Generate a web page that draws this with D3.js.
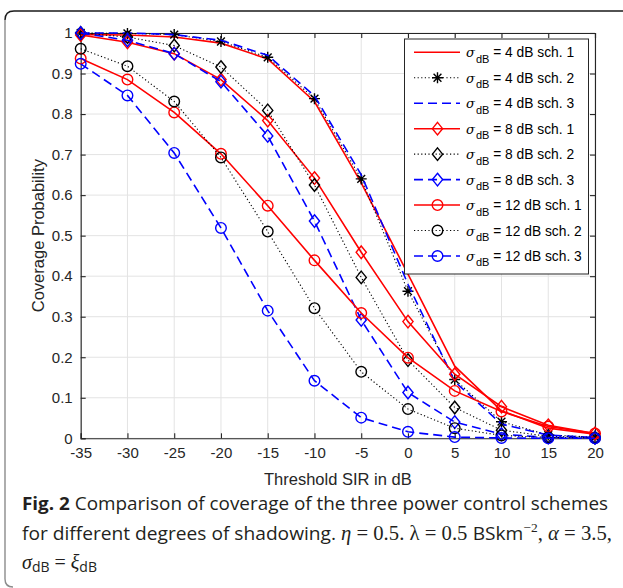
<!DOCTYPE html>
<html><head><meta charset="utf-8">
<script src="https://cdn.jsdelivr.net/npm/d3@7"></script>
<style>html,body{margin:0;padding:0;background:#fff;}svg{display:block;}</style>
</head><body>
<script>
const xValues = [-35,-30,-25,-20,-15,-10,-5,0,5,10,15,20];
const xTicks = [-35,-30,-25,-20,-15,-10,-5,0,5,10,15,20];
const xTickLabels = ["-35","-30","-25","-20","-15","-10","-5","0","5","10","15","20"];
const yTicks = [0,0.1,0.2,0.3,0.4,0.5,0.6,0.7,0.8,0.9,1];
const yTickLabels = ["0","0.1","0.2","0.3","0.4","0.5","0.6","0.7","0.8","0.9","1"];

const s4sch1 = [0.996,0.995,0.990,0.975,0.936,0.831,0.630,0.405,0.178,0.068,0.025,0.010];
const s4sch2 = [1.000,0.999,0.996,0.979,0.940,0.838,0.640,0.363,0.145,0.041,0.008,0.003];
const s4sch3 = [1.000,1.000,0.996,0.982,0.945,0.845,0.650,0.380,0.140,0.035,0.008,0.002];
const s8sch1 = [0.995,0.977,0.949,0.885,0.784,0.642,0.459,0.288,0.158,0.078,0.032,0.012];
const s8sch2 = [1.000,0.990,0.969,0.916,0.809,0.625,0.397,0.193,0.076,0.020,0.005,0.002];
const s8sch3 = [1.000,0.982,0.949,0.880,0.746,0.536,0.292,0.113,0.040,0.010,0.002,0.001];
const s12sch1 = [0.937,0.885,0.804,0.702,0.574,0.439,0.309,0.199,0.117,0.066,0.029,0.012];
const s12sch2 = [0.961,0.918,0.831,0.693,0.510,0.321,0.164,0.072,0.025,0.007,0.002,0.001];
const s12sch3 = [0.924,0.846,0.704,0.519,0.315,0.142,0.051,0.016,0.003,0.001,0.000,0.000];

const seriesNames = ["4","4","4","8","8","8","12","12","12"];
const seriesScheme = ["1","2","3","1","2","3","1","2","3"];
const seriesValues = [s4sch1,s4sch2,s4sch3,s8sch1,s8sch2,s8sch3,s12sch1,s12sch2,s12sch3];
const seriesColor = ["#ff0000","#000000","#0000ff","#ff0000","#000000","#0000ff","#ff0000","#000000","#0000ff"];
const seriesStyle = ["solid","dotted","dashed","solid","dotted","dashed","solid","dotted","dashed"];
const seriesMarker = ["none","star","none","diamond","diamond","diamond","circle","circle","circle"];

const W = 623, H = 588;
const svg = d3.select("body").append("svg").attr("width", W).attr("height", H)
  .attr("font-family", "'Liberation Sans', Arial, sans-serif");

// outer frame
svg.append("path").attr("d", "M5,20 L5,579 Q5,587 13,587").attr("fill","none").attr("stroke","#8c8c8c").attr("stroke-width",1.4);
svg.append("path").attr("d", "M5,20 Q5,11 14,11 L623,11").attr("fill","none").attr("stroke","#1a1a1a").attr("stroke-width",1.4);

const x = d3.scaleLinear().domain([-35,20]).range([80.7,595]);
const y = d3.scaleLinear().domain([0,1]).range([438.3,33]);
const axCol = "#262626";

// grid
const g = svg.append("g");
g.selectAll(".gx").data(xTicks).enter().append("line")
  .attr("x1", d=>x(d)).attr("x2", d=>x(d)).attr("y1", y(0)).attr("y2", y(1))
  .attr("stroke","#e3e3e3").attr("stroke-width",1);
g.selectAll(".gy").data(yTicks).enter().append("line")
  .attr("x1", x(-35)).attr("x2", x(20)).attr("y1", d=>y(d)).attr("y2", d=>y(d))
  .attr("stroke","#e3e3e3").attr("stroke-width",1);

// axes (MATLAB-like, ticks inward, box on)
const xb = d3.axisBottom(x).tickValues(xTicks).tickSize(-5).tickPadding(9).tickFormat((d,i)=>xTickLabels[i]);
const xt = d3.axisTop(x).tickValues(xTicks).tickSize(-5).tickFormat("");
const yl = d3.axisLeft(y).tickValues(yTicks).tickSize(-5).tickPadding(8).tickFormat((d,i)=>yTickLabels[i]);
const yr = d3.axisRight(y).tickValues(yTicks).tickSize(-5).tickFormat("");
function styleAxis(sel){
  sel.attr("font-size",15).attr("font-family","'Liberation Sans', Arial, sans-serif");
  sel.selectAll("path").attr("stroke",axCol).attr("stroke-width",1.1);
  sel.selectAll("line").attr("stroke",axCol).attr("stroke-width",1.1);
  sel.selectAll("text").attr("fill",axCol);
}
svg.append("g").attr("transform",`translate(0,${y(0)})`).call(xb).call(styleAxis);
svg.append("g").attr("transform",`translate(0,${y(1)})`).call(xt).call(styleAxis);
svg.append("g").attr("transform",`translate(${x(-35)},0)`).call(yl).call(styleAxis);
svg.append("g").attr("transform",`translate(${x(20)},0)`).call(yr).call(styleAxis);

// axis labels
svg.append("text").attr("x", (x(-35)+x(20))/2).attr("y", 485).attr("text-anchor","middle")
  .attr("font-size",16.5).attr("fill",axCol).text("Threshold SIR in dB");
svg.append("text").attr("transform",`translate(44,${(y(0)+y(1))/2}) rotate(-90)`).attr("text-anchor","middle")
  .attr("font-size",16.5).attr("fill",axCol).text("Coverage Probability");

// styles
function dash(st){ return st==="dashed" ? "9,5" : st==="dotted" ? "1.2,2.4" : null; }
function lw(st){ return st==="dotted" ? 1.1 : 1.6; }

function drawMarker(sel, type, cx, cy, color){
  if (type==="circle") {
    sel.append("circle").attr("cx",cx).attr("cy",cy).attr("r",5.3)
      .attr("fill","none").attr("stroke",color).attr("stroke-width",1.4);
  } else if (type==="diamond") {
    sel.append("path").attr("d",`M${cx},${cy-6.3}L${cx+5.1},${cy}L${cx},${cy+6.3}L${cx-5.1},${cy}Z`)
      .attr("fill","none").attr("stroke",color).attr("stroke-width",1.4);
  } else if (type==="star") {
    const r = 5.5, q = 3.9;
    sel.append("path").attr("d",`M${cx-r},${cy}L${cx+r},${cy}M${cx},${cy-r}L${cx},${cy+r}M${cx-q},${cy-q}L${cx+q},${cy+q}M${cx-q},${cy+q}L${cx+q},${cy-q}`)
      .attr("fill","none").attr("stroke",color).attr("stroke-width",1.4);
  }
}

const line = d3.line().x((d,i)=>x(xValues[i])).y(d=>y(d));
const plot = svg.append("g");
seriesValues.forEach((vals, k) => {
  const gs = plot.append("g");
  gs.append("path").datum(vals).attr("d", line).attr("fill","none")
    .attr("stroke", seriesColor[k]).attr("stroke-width", lw(seriesStyle[k]))
    .attr("stroke-dasharray", dash(seriesStyle[k]));
  if (seriesMarker[k] !== "none") {
    vals.forEach((v,i) => drawMarker(gs, seriesMarker[k], x(xValues[i]), y(v), seriesColor[k]));
  }
});

// legend
const lg = svg.append("g");
lg.append("rect").attr("x",404.5).attr("y",39).attr("width",184).attr("height",235)
  .attr("fill","#fff").attr("stroke","#262626").attr("stroke-width",1);
seriesValues.forEach((vals,k)=>{
  const ly = 52.3 + k*25.46;
  lg.append("line").attr("x1",414).attr("x2",460).attr("y1",ly).attr("y2",ly)
    .attr("stroke",seriesColor[k]).attr("stroke-width",lw(seriesStyle[k]))
    .attr("stroke-dasharray",dash(seriesStyle[k]));
  if (seriesMarker[k]!=="none") drawMarker(lg, seriesMarker[k], 437.5, ly, seriesColor[k]);
  const t = lg.append("text").attr("x",466).attr("y",ly+5).attr("font-size",13.8).attr("fill","#000");
  t.append("tspan").attr("font-style","italic").attr("font-family","'DejaVu Serif', serif").attr("font-size",13).text("σ");
  t.append("tspan").attr("dy",5.5).attr("font-size",11).attr("dx",1).text("dB");
  t.append("tspan").attr("dy",-5.5).text(` = ${seriesNames[k]} dB sch. ${seriesScheme[k]}`);
});

// caption
const capFont = "'Open Sans', 'Noto Sans', sans-serif";
const mathFont = "'Liberation Serif', 'DejaVu Serif', serif";
const c1 = svg.append("text").attr("x",22).attr("y",510).attr("font-size",18.5).attr("font-family",capFont).attr("fill","#231f20")
  .attr("textLength",586).attr("lengthAdjust","spacingAndGlyphs");
c1.append("tspan").attr("font-weight","bold").text("Fig. 2");
c1.append("tspan").text(" Comparison of coverage of the three power control schemes");

const c2 = svg.append("text").attr("x",22).attr("y",540).attr("font-size",18.5).attr("font-family",capFont).attr("fill","#231f20")
  .attr("textLength",590).attr("lengthAdjust","spacingAndGlyphs");
c2.append("tspan").text("for different degrees of shadowing. ");
c2.append("tspan").attr("font-family",mathFont).attr("font-style","italic").attr("font-size",20).text("η");
c2.append("tspan").attr("font-family",mathFont).attr("font-size",20).text(" = 0.5. λ = 0.5 ");
c2.append("tspan").text("BSkm");
c2.append("tspan").attr("font-family",mathFont).attr("font-size",13).attr("dy",-8).text("−2");
c2.append("tspan").attr("font-family",mathFont).attr("font-size",20).attr("dy",8).text(", ");
c2.append("tspan").attr("font-family",mathFont).attr("font-style","italic").attr("font-size",20).text("α");
c2.append("tspan").attr("font-family",mathFont).attr("font-size",20).text(" = 3.5,");

const c3 = svg.append("text").attr("x",22).attr("y",569).attr("font-size",18.5).attr("font-family",capFont).attr("fill","#231f20");
c3.append("tspan").attr("font-family",mathFont).attr("font-style","italic").attr("font-size",20).text("σ");
c3.append("tspan").attr("font-size",14).attr("dy",3).text("dB");
c3.append("tspan").attr("font-family",mathFont).attr("font-size",20).attr("dy",-3).text(" = ");
c3.append("tspan").attr("font-family",mathFont).attr("font-style","italic").attr("font-size",20).text("ξ");
c3.append("tspan").attr("font-size",14).attr("dy",3).text("dB");
</script>
</body></html>
